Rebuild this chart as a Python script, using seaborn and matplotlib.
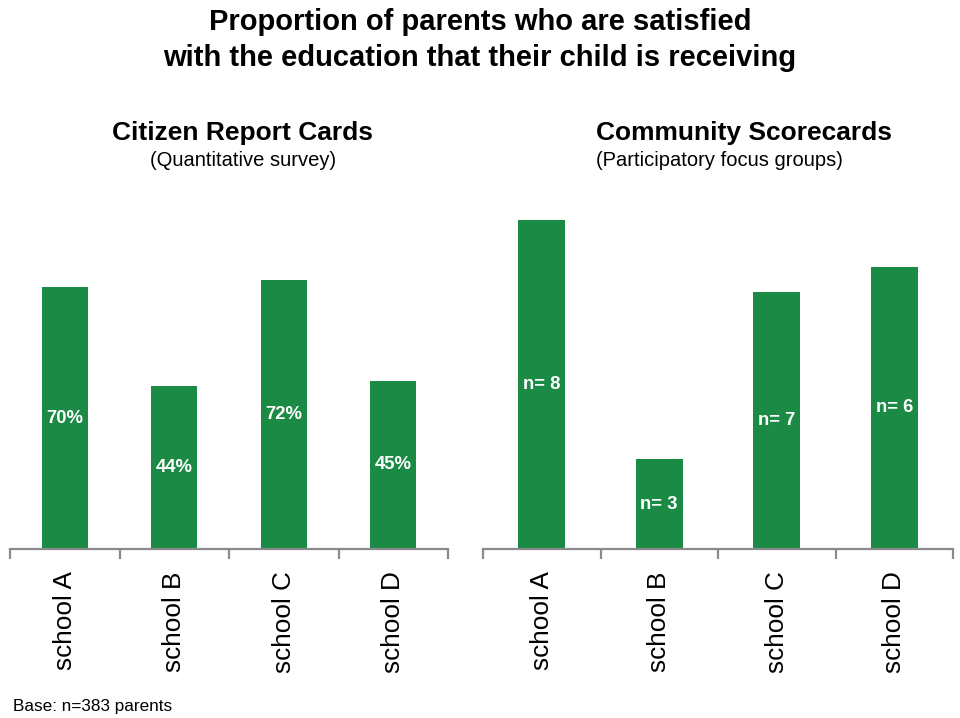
import matplotlib
matplotlib.use("Agg")
import matplotlib.pyplot as plt
from matplotlib import font_manager
from matplotlib.ticker import FixedLocator
import seaborn as sns
import pandas as pd

# ---- data ----
schools = ["school A", "school B", "school C", "school D"]
crc_values = [70, 43.5, 72, 45]
crc_labels = ["70%", "44%", "72%", "45%"]
csc_values = [88, 24, 68.8, 75.5]
csc_labels = ["n= 8", "n= 3", "n= 7", "n= 6"]

title = "Proportion of parents who are satisfied\nwith the education that their child is receiving"
left_title = "Citizen Report Cards"
left_sub = "(Quantitative survey)"
right_title = "Community Scorecards"
right_sub = "(Participatory focus groups)"
footer = "Base: n=383 parents"

GREEN = "#1a8a44"
GREY = "#8a8a8e"

sns.set_theme(style="white")
available = {f.name for f in font_manager.fontManager.ttflist}
base = "Liberation Sans" if "Liberation Sans" in available else "DejaVu Sans"
plt.rcParams["font.family"] = [base, "DejaVu Sans"]
plt.rcParams["text.color"] = "black"

W, H = 960, 718
fig = plt.figure(figsize=(W / 100, H / 100), dpi=100)

def px_axes(x0, x1, ybot, ytop):
    return fig.add_axes([x0 / W, 1 - ybot / H, (x1 - x0) / W, (ybot - ytop) / H])

def draw(ax, values, labels, width):
    df = pd.DataFrame({"school": schools, "value": values})
    sns.barplot(data=df, x="school", y="value", ax=ax, color=GREEN,
                saturation=1, width=width, edgecolor="none")
    ax.set_xlim(-0.5, 3.5)
    ax.set_ylim(0, 100)
    ax.set_xlabel("")
    ax.set_ylabel("")
    ax.set_yticks([])
    for s in ["top", "left", "right"]:
        ax.spines[s].set_visible(False)
    ax.spines["bottom"].set_color(GREY)
    ax.spines["bottom"].set_linewidth(1.6)
    ax.xaxis.set_minor_locator(FixedLocator([-0.5, 0.5, 1.5, 2.5, 3.5]))
    ax.tick_params(axis="x", which="major", length=0, pad=16, labelsize=18.8,
                   labelcolor="black")
    ax.tick_params(axis="x", which="minor", length=7, width=1.6, color=GREY,
                   direction="out", bottom=True)
    for lab in ax.get_xticklabels():
        lab.set_rotation(90)
        lab.set_va("top")
        lab.set_ha("center")
    ax.bar_label(ax.containers[0], labels=labels, label_type="center",
                 color="white", fontweight="bold", fontsize=13.3)
    ax.patch.set_alpha(0)

axL = px_axes(10, 448, 549, 175)
draw(axL, crc_values, crc_labels, 0.42)
axR = px_axes(483, 953, 549, 175)
draw(axR, csc_values, csc_labels, 0.40)

fig.text(480 / W, 1 - 22 / H, title.split("\n")[0], ha="center", va="center",
         fontsize=21, fontweight="bold", color="black")
fig.text(480 / W, 1 - 58 / H, title.split("\n")[1], ha="center", va="center",
         fontsize=21, fontweight="bold", color="black")
fig.text(243 / W, 1 - 133 / H, left_title, ha="center", va="center",
         fontsize=19, fontweight="bold", color="black")
fig.text(243 / W, 1 - 160 / H, left_sub, ha="center", va="center",
         fontsize=14.5, color="black")
fig.text(596 / W, 1 - 133 / H, right_title, ha="left", va="center",
         fontsize=19, fontweight="bold", color="black")
fig.text(596 / W, 1 - 160 / H, right_sub, ha="left", va="center",
         fontsize=14.5, color="black")
fig.text(13 / W, 1 - 707 / H, footer, ha="left", va="center", fontsize=12.3,
         color="black")

fig.savefig("out.png", dpi=100, facecolor="white")
